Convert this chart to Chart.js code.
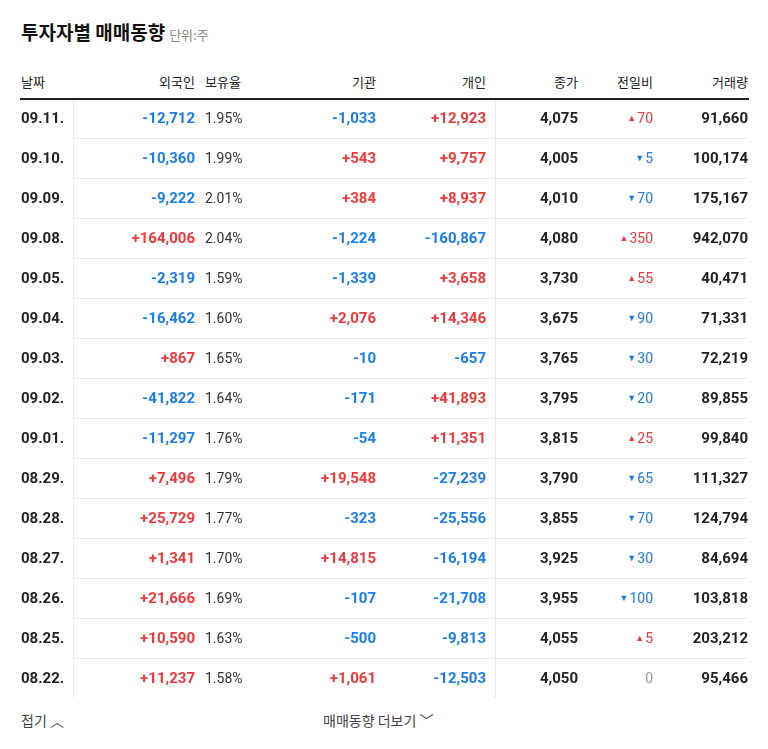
<!DOCTYPE html>
<html><head><meta charset="utf-8">
<script src="https://cdn.jsdelivr.net/npm/chart.js@4"></script>
<style>
body{margin:0;background:#fff;font-family:"Noto Sans CJK KR",Roboto,sans-serif;width:768px;height:749px;position:relative;overflow:hidden}
.t{position:absolute;left:21px;top:18px;font-size:19px;font-weight:bold;color:#111}
.t span{font-size:13px;font-weight:normal;color:#888;margin-left:4px}
.h{position:absolute;top:72px;font-size:13px;color:#222}
.f{position:absolute;top:710px;font-size:14px;color:#444}
#wrap{position:absolute;left:20px;top:98px;width:729px;height:600px}
</style></head><body>
<div class="t">투자자별 매매동향<span>단위:주</span></div>
<div class="h" style="left:21px">날짜</div>
<div class="h" style="right:573px">외국인</div>
<div class="h" style="left:205px">보유율</div>
<div class="h" style="right:392px">기관</div>
<div class="h" style="right:282px">개인</div>
<div class="h" style="right:190px">종가</div>
<div class="h" style="right:115px">전일비</div>
<div class="h" style="right:20px">거래량</div>
<div class="f" style="left:21px">접기 ︿</div>
<div class="f" style="left:323px">매매동향 더보기 ﹀</div>
<div id="wrap"><canvas id="c"></canvas></div>
<script>
const dates = ['09.11.','09.10.','09.09.','09.08.','09.05.','09.04.','09.03.','09.02.','09.01.','08.29.','08.28.','08.27.','08.26.','08.25.','08.22.'];
const foreign = [-12712,-10360,-9222,164006,-2319,-16462,867,-41822,-11297,7496,25729,1341,21666,10590,11237];
const holding = [1.95,1.99,2.01,2.04,1.59,1.60,1.65,1.64,1.76,1.79,1.77,1.70,1.69,1.63,1.58];
const inst = [-1033,543,384,-1224,-1339,2076,-10,-171,-54,19548,-323,14815,-107,-500,1061];
const indiv = [12923,9757,8937,-160867,3658,14346,-657,41893,11351,-27239,-25556,-16194,-21708,-9813,-12503];
const close = [4075,4005,4010,4080,3730,3675,3765,3795,3815,3790,3855,3925,3955,4055,4050];
const change = [70,-5,-70,350,55,-90,-30,-20,25,-65,-70,-30,-100,5,0];
const volume = [91660,100174,175167,942070,40471,71331,72219,89855,99840,111327,124794,84694,103818,203212,95466];

const RED = '#f0383b', BLUE = '#1a7ee8';
const fmt = n => Math.abs(n).toLocaleString('en-US');
const signed = n => (n > 0 ? '+' : n < 0 ? '-' : '') + fmt(n);
const col = n => n > 0 ? RED : n < 0 ? BLUE : '#999';

const tablePlugin = {
  id: 'table',
  afterDraw(chart) {
    const ctx = chart.ctx, y = chart.scales.y, W = chart.width;
    const top = y.top, bot = y.bottom, step = (bot - top) / dates.length;
    ctx.save();
    ctx.fillStyle = '#222'; ctx.fillRect(0, top, W, 2);
    ctx.fillStyle = '#ececec';
    for (let i = 1; i < dates.length; i++) ctx.fillRect(54, top + i * step, W - 54, 1);
    ctx.fillRect(53, top + 2, 1, bot - top - 2);
    ctx.fillRect(475, top + 2, 1, bot - top - 2);
    ctx.textBaseline = 'middle';
    const cell = (t, x, yy, c, align, font) => {
      ctx.fillStyle = c; ctx.textAlign = align; ctx.font = font; ctx.fillText(t, x, yy);
    };
    const B = 'bold 15px Roboto, sans-serif', N = '14px Roboto, sans-serif';
    dates.forEach((d, i) => {
      const yy = y.getPixelForValue(i) + 1;
      cell(d, 1, yy, '#222', 'left', B);
      cell(signed(foreign[i]), 175, yy, col(foreign[i]), 'right', B);
      cell(holding[i].toFixed(2) + '%', 185, yy, '#333', 'left', N);
      cell(signed(inst[i]), 356, yy, col(inst[i]), 'right', B);
      cell(signed(indiv[i]), 466, yy, col(indiv[i]), 'right', B);
      cell(fmt(close[i]), 558, yy, '#222', 'right', B);
      const ch = change[i];
      cell((ch > 0 ? '▲' : ch < 0 ? '▼' : '') , 633 - ctx.measureText ? 0 : 0, yy, '#fff', 'right', N);
      ctx.font = N;
      const num = fmt(ch), nw = ctx.measureText(num).width;
      cell(num, 633, yy, col(ch), 'right', N);
      if (ch) cell(ch > 0 ? '▲' : '▼', 633 - nw - 1, yy, col(ch), 'right', '9px sans-serif');
      cell(fmt(volume[i]), 728, yy, '#222', 'right', B);
    });
    ctx.restore();
  }
};

new Chart(document.getElementById('c'), {
  type: 'scatter',
  data: { datasets: [{ data: dates.map((d, i) => ({ x: 0, y: i })), pointRadius: 0 }] },
  options: {
    responsive: true, maintainAspectRatio: false, animation: false,
    layout: { padding: 0 },
    plugins: { legend: { display: false }, tooltip: { enabled: false } },
    scales: {
      x: { display: false, min: 0, max: 1 },
      y: { display: false, reverse: true, min: -0.5, max: dates.length - 0.5 }
    }
  },
  plugins: [tablePlugin]
});
</script>
</body></html>
